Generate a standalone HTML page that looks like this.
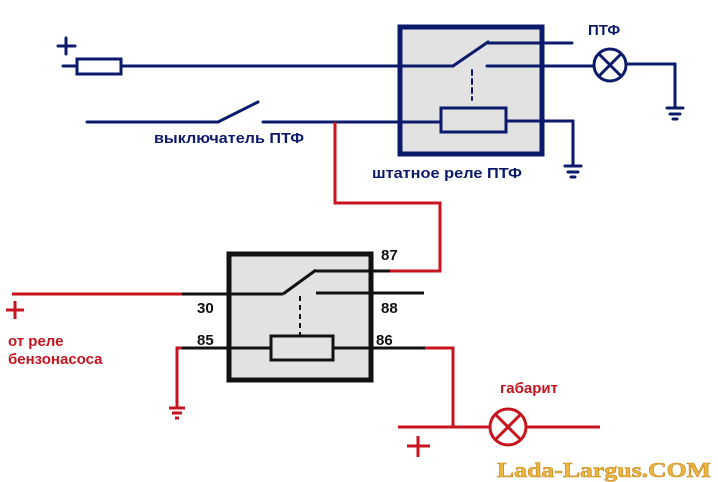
<!DOCTYPE html>
<html><head><meta charset="utf-8"><style>
html,body{margin:0;padding:0;background:#fff;}
svg{display:block;}
.n{fill:#0b1a6b;font-family:"Liberation Sans","DejaVu Sans",sans-serif;font-size:15px;font-weight:bold;}
.k{fill:#111;font-family:"Liberation Sans",sans-serif;font-size:15px;font-weight:bold;}
.r{fill:#c8141e;font-family:"Liberation Sans",sans-serif;font-size:15px;font-weight:bold;}
</style></head><body>
<svg width="718" height="482" viewBox="0 0 718 482" xmlns="http://www.w3.org/2000/svg">
<g stroke="#0b1a6b" stroke-width="3" fill="none" stroke-linecap="round">
 <rect x="400" y="27" width="142" height="127" fill="#e2e2e2" stroke-width="5"/>
 <line x1="58" y1="46" x2="75" y2="46"/><line x1="66" y1="38" x2="66" y2="54"/>
 <line x1="63" y1="66" x2="453" y2="66"/>
 <rect x="77" y="59" width="44" height="15" fill="#fff"/>
 <line x1="453" y1="66" x2="488" y2="42"/>
 <line x1="488" y1="43" x2="572" y2="43"/>
 <line x1="487" y1="66" x2="594" y2="66"/>
 <line x1="472" y1="70" x2="472" y2="100" stroke-width="2" stroke-dasharray="5,4"/>
 <line x1="87" y1="122" x2="218" y2="122"/><line x1="218" y1="122" x2="258" y2="102"/>
 <line x1="263" y1="122" x2="441" y2="122"/>
 <rect x="441" y="108" width="65" height="24" fill="#e2e2e2"/>
 <line x1="506" y1="121" x2="573" y2="121"/><line x1="573" y1="121" x2="573" y2="165"/>
 <line x1="565" y1="166" x2="581" y2="166"/><line x1="568" y1="172" x2="578" y2="172"/><line x1="571" y1="177" x2="575" y2="177"/>
 <circle cx="610" cy="65" r="16" fill="#fff"/>
 <line x1="599" y1="54" x2="621" y2="76"/><line x1="621" y1="54" x2="599" y2="76"/>
 <line x1="626" y1="64" x2="675" y2="64"/><line x1="675" y1="64" x2="675" y2="107"/>
 <line x1="667" y1="108" x2="683" y2="108"/><line x1="670" y1="114" x2="680" y2="114"/><line x1="673" y1="119" x2="677" y2="119"/>
</g>
<text x="588" y="35" class="n">ПТФ</text>
<text x="154" y="143" class="n" textLength="150" lengthAdjust="spacingAndGlyphs">выключатель ПТФ</text>
<text x="372" y="178" class="n" textLength="150" lengthAdjust="spacingAndGlyphs">штатное реле ПТФ</text>
<g stroke="#c8141e" stroke-width="3" fill="none">
 <polyline points="335,122 335,203 440,203 440,271 390,271"/>
 <line x1="12" y1="294" x2="182" y2="294"/>
 <line x1="6" y1="310" x2="24" y2="310"/><line x1="15" y1="301" x2="15" y2="319"/>
 <polyline points="177,408 177,348 182,348"/>
 <line x1="169" y1="408" x2="185" y2="408"/><line x1="172" y1="413" x2="182" y2="413"/><line x1="175" y1="418" x2="179" y2="418"/>
 <polyline points="425,348 453,348 453,427"/>
 <line x1="398" y1="427" x2="600" y2="427"/>
 <circle cx="508" cy="427" r="18" fill="#fff"/>
 <line x1="495" y1="414" x2="521" y2="440"/><line x1="521" y1="414" x2="495" y2="440"/>
 <line x1="407" y1="446" x2="430" y2="446"/><line x1="418" y1="436" x2="418" y2="457"/>
</g>
<g stroke="#111" stroke-width="3" fill="none">
 <rect x="229" y="254" width="142" height="126" fill="#e2e2e2" stroke-width="5"/>
 <line x1="182" y1="294" x2="283" y2="294"/>
 <line x1="283" y1="294" x2="316" y2="270"/>
 <line x1="316" y1="271" x2="390" y2="271"/>
 <line x1="316" y1="293" x2="424" y2="293"/>
 <line x1="300" y1="296" x2="300" y2="336" stroke-width="2" stroke-dasharray="5,4"/>
 <line x1="182" y1="348" x2="271" y2="348"/>
 <line x1="333" y1="348" x2="425" y2="348"/>
 <rect x="271" y="336" width="62" height="24" fill="#e2e2e2"/>
</g>
<text x="381" y="260" class="k">87</text>
<text x="197" y="313" class="k">30</text>
<text x="381" y="313" class="k">88</text>
<text x="197" y="345" class="k">85</text>
<text x="376" y="345" class="k">86</text>
<text x="8" y="346" class="r">от реле</text>
<text x="8" y="364" class="r">бензонасоса</text>
<text x="500" y="393" class="r">габарит</text>
<text x="497" y="477" fill="#eab640" stroke="#c98a20" stroke-width="0.6" font-family="Liberation Serif,serif" font-weight="bold" font-size="21" textLength="214" lengthAdjust="spacingAndGlyphs">Lada-Largus.COM</text>
</svg>
</body></html>
